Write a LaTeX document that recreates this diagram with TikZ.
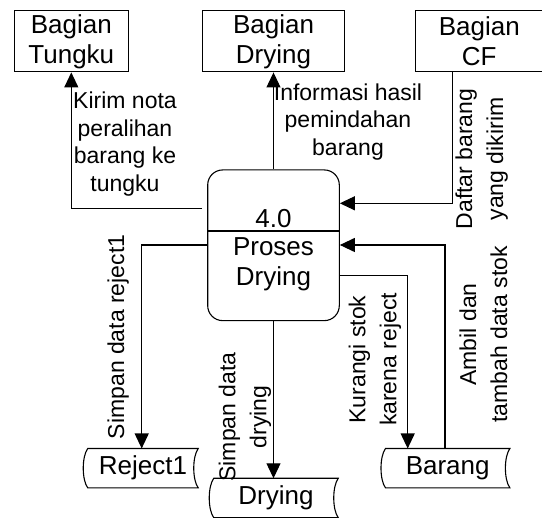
\documentclass[tikz,border=0pt]{standalone}
\usepackage{fontspec}
\setmainfont{Liberation Sans}
\usetikzlibrary{arrows.meta}

\begin{document}
\begin{tikzpicture}[x=1pt, y=-1pt, line width=1.1pt,
  >={Triangle[length=15pt,width=14pt]},
  ext/.style={draw, rectangle, minimum height=61pt, inner sep=0pt, align=center, font=\fontsize{26}{30}\selectfont},
  proc/.style={draw, rectangle, rounded corners=15pt, minimum width=131.6pt, minimum height=150.7pt},
  store/.style={minimum height=38.3pt, inner sep=0pt, font=\fontsize{26}{30}\selectfont},
  lbl/.style={align=center, inner sep=0pt, font=\fontsize{23}{27.5}\selectfont},
  vlbl/.style={lbl, rotate=90, font=\fontsize{23}{31}\selectfont}]
\useasboundingbox (0,0) rectangle (542,518);

% external entities
\node[ext, minimum width=114pt] (tungku) at (71.3,41.4) {Bagian\\Tungku};
\node[ext, minimum width=141.6pt] (bdrying) at (273.5,41.4) {Bagian\\Drying};
\node[ext, minimum width=128pt] (cf) at (479.3,41.4) {Bagian\\CF};

% process
\node[proc] (proc) at (273.5,245.3) {};
\node[font=\fontsize{26}{30}\selectfont, inner sep=0pt] (procid) at (273.5,218.5) {4.0};
\node[align=center, inner sep=0pt, font=\fontsize{26}{30}\selectfont] (procname) at (273.5,264.3) {Proses\\Drying};
\draw (proc.west |- 0,231) -- (proc.east |- 0,231);

% data stores, both ends curved like "("
\node[store, minimum width=109.4pt] (rej) at (143,468.2) {Reject1};
\node[store, minimum width=123.4pt] (dry) at (276,498) {Drying};
\node[store, minimum width=123.3pt] (brg) at (447.7,468.2) {Barang};
\foreach \s in {rej,dry,brg}
  \draw (\s.north west) -- (\s.north east)
    .. controls +(-6,8) and +(-6,-8) .. (\s.south east) -- (\s.south west)
    .. controls +(-6,-8) and +(-6,8) .. (\s.north west) -- cycle;

% flows
\draw[->, shorten <=5pt] (proc.west |- 0,208.3) -| (tungku.south);
\draw[->] (proc.north) -- (bdrying.south);
\draw[->] (cf.south -| 452.7,0) |- (proc.east |- 0,203.3);
\draw[->] (brg.north -| 445,0) |- (proc.east |- 0,245);
\draw[->] (proc.east |- 0,275.7) -| (brg.north -| 407.7,0);
\draw[->] (proc.west |- 0,245) -| (rej.north -| 141.7,0);
\draw[->] (proc.south) -- (dry.north -| proc.south);

% labels
\node[lbl] (lnota) at (125,144) {Kirim nota\\peralihan\\barang ke\\tungku};
\node[lbl] (linfo) at (348,121.7) {Informasi hasil\\pemindahan\\barang};
\node[vlbl] (ldaftar) at (481.7,159) {Daftar barang\\yang dikirim};
\node[vlbl] (lambil) at (483.5,334.5) {Ambil dan\\tambah data stok};
\node[vlbl] (lkurang) at (375,359.5) {Kurangi stok\\karena reject};
\node[vlbl] (lreject) at (118.3,336.9) {Simpan data reject1};
\node[vlbl] (ldrying) at (245,417) {Simpan data\\drying};
\end{tikzpicture}
\end{document}
